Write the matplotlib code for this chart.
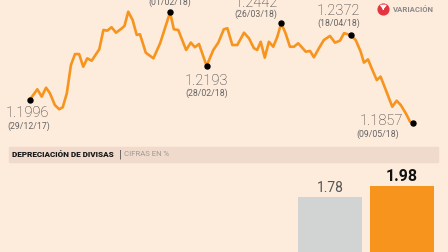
import numpy as np
import matplotlib
matplotlib.use("Agg")
import matplotlib.pyplot as plt

# evolucion del cambio euro/dolar (dias desde 29/12/17)
dias = [0, 2.5, 4.0, 5.5, 6.8, 8.5, 10.0, 11.2, 12.6, 14.0, 15.4, 16.8, 18.2, 19.6,
        21.1, 22.6, 23.7, 25.1, 26.4, 27.9, 29.4, 31.0, 32.3, 33.6, 35.1, 36.5,
        37.6, 39.6, 42.2, 44.5, 47.9, 49.2, 50.7, 53.4, 55.0, 56.4, 57.8, 60.4,
        62.7, 64.4, 66.3, 67.5, 69.2, 70.9, 73.2, 74.9, 76.6, 77.7, 78.9, 80.3,
        81.7, 83.2, 84.6, 85.9, 87.4, 88.9, 90.3, 91.7, 92.8, 94.3, 95.8, 97.1,
        98.8, 100.5, 102.6, 104.3, 106.0, 107.4, 108.5, 109.7, 111.4, 113.1,
        114.2, 115.6, 117.1, 118.6, 119.9, 121.6, 123.9, 125.4, 126.8, 128.5,
        130.0, 131.0]
cambio = [1.1996, 1.2056, 1.2013, 1.2065, 1.2033, 1.1964, 1.1939, 1.1951, 1.2033,
          1.2198, 1.2262, 1.2262, 1.2188, 1.2237, 1.2223, 1.2262, 1.2290, 1.2403,
          1.2399, 1.2419, 1.2387, 1.2407, 1.2426, 1.2510, 1.2461, 1.2374, 1.2378,
          1.2270, 1.2237, 1.2325, 1.2506, 1.2407, 1.2403, 1.2286, 1.2329, 1.2302,
          1.2321, 1.2193, 1.2286, 1.2329, 1.2407, 1.2413, 1.2315, 1.2315, 1.2387,
          1.2354, 1.2296, 1.2286, 1.2334, 1.2241, 1.2334, 1.2305, 1.2364, 1.2442,
          1.2384, 1.2305, 1.2305, 1.2325, 1.2305, 1.2276, 1.2280, 1.2243, 1.2296,
          1.2344, 1.2368, 1.2329, 1.2340, 1.2384, 1.2379, 1.2372, 1.2344, 1.2276,
          1.2212, 1.2231, 1.2169, 1.2110, 1.2130, 1.2056, 1.1954, 1.1989, 1.1964,
          1.1916, 1.1866, 1.1857]

# puntos destacados: indice, fecha, mostrar valor
marcas = [0, 30, 37, 53, 69, 83]
fechas = ["(29/12/17)", "(01/02/18)", "(28/02/18)", "(26/03/18)", "(18/04/18)", "(09/05/18)"]
con_valor = [True, False, True, True, True, True]
off_valor = [(-3, -13), (0, 22), (0, -15), (-25, 20), (-12, 24), (-32, 2)]
off_fecha = [(-1, -27), (0, 10), (0, -27), (-25, 9), (-12, 12), (-35, -11)]

# depreciacion de divisas
depreciacion = [1.78, 1.98]
colores_barras = ["#d2d3d3", "#f7941d"]

fondo = "#fdebdc"
naranja = "#f7941d"

fig = plt.figure(figsize=(4.48, 2.52), dpi=100, facecolor=fondo)
plt.rcParams['font.family'] = ['Roboto', 'DejaVu Sans']

W, H = 448.0, 252.0

# linea superior
ax = fig.add_axes([0, 1 - 140 / H, 1, 140 / H])
ax.set_facecolor(fondo)
ax.plot(dias, cambio, color=naranja, lw=1.9, solid_joinstyle="round", zorder=2)
ax.set_xlim(-10.26, 142.96)
ax.set_ylim(1.17593, 1.25783)
ax.axis("off")

px = 0.72  # puntos por pixel
for i, fecha, cv, ov, of in zip(marcas, fechas, con_valor, off_valor, off_fecha):
    x, y = dias[i], cambio[i]
    ax.plot(x, y, "o", color="black", ms=3.6, zorder=3, clip_on=False)
    if cv:
        ax.annotate(f"{y:.4f}", (x, y), xytext=(ov[0] * px, ov[1] * px),
                    textcoords="offset points", ha="center", va="center",
                    fontsize=10.5, color="#333333", fontweight="light",
                    annotation_clip=False)
    ax.annotate(fecha, (x, y), xytext=(of[0] * px, of[1] * px),
                textcoords="offset points", ha="center", va="center",
                fontsize=6.3, color="#666666", annotation_clip=False)

# leyenda variacion
axl = fig.add_axes([0, 0, 1, 1], zorder=5)
axl.set_xlim(0, W)
axl.set_ylim(H, 0)
axl.axis("off")
axl.scatter([383.3], [9.3], s=60, color="#e4343e", zorder=1)
axl.annotate("", xy=(383.3, 12.3), xytext=(383.3, 5.8),
             arrowprops=dict(arrowstyle="-|>,head_width=0.18,head_length=0.22",
                             color="white", lw=1.0), zorder=2)
axl.text(392.5, 9.3, "VARIACIÓN", color="#8a8a8a", fontsize=5.6,
         fontweight="bold", ha="left", va="center")

# franja titulo
axl.add_patch(plt.Rectangle((9, 147.3), 429, 14.4, color="#efdacb", zorder=0))
axl.text(12, 154.5, "DEPRECIACIÓN DE DIVISAS", color="#1a1a1a",
         fontsize=5.9, fontweight="black", ha="left", va="center")
axl.text(119, 154.5, "|", color="#444444", fontsize=8, ha="left", va="center")
axl.text(124, 154.5, "CIFRAS EN %", color="#a09a95", fontsize=5.6,
         ha="left", va="center")

# barras
axb = fig.add_axes([0, 0, 1, 87 / H])
axb.set_facecolor("none")
pos = np.arange(len(depreciacion))
axb.bar(pos, depreciacion, width=0.895, color=colores_barras)
axb.set_xlim(-4.615, 1.650)
axb.set_ylim(0.812, 2.352)
axb.axis("off")
for p, v in zip(pos, depreciacion):
    negrita = v == max(depreciacion)
    axb.annotate(f"{v:.2f}", (p, v), xytext=(0, 9.4 * px), textcoords="offset points",
                 ha="center", va="center", fontsize=11.5 if negrita else 10,
                 fontweight="bold" if negrita else "normal",
                 color="#111111" if negrita else "#555555")

fig.savefig("out.png", dpi=100, facecolor=fondo)
